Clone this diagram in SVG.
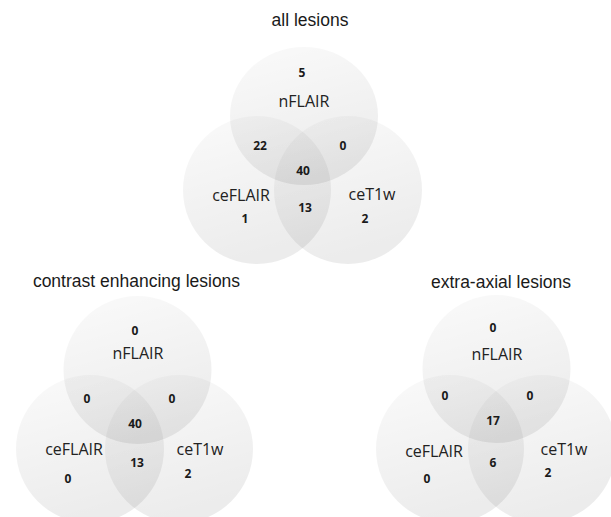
<svg xmlns="http://www.w3.org/2000/svg" width="611" height="517" viewBox="0 0 611 517">
<defs>
<linearGradient id="g" x1="0" y1="0" x2="0.3" y2="1">
<stop offset="0" stop-color="#000" stop-opacity="0.02"/>
<stop offset="1" stop-color="#000" stop-opacity="0.075"/>
</linearGradient>
</defs>
<style>
.c{fill:url(#g);}
.t{font-family:"Liberation Sans",Arial,sans-serif;font-size:17.5px;fill:#1a1a1a;text-anchor:middle;}
.l{font-family:"Open Sans","Noto Sans",sans-serif;font-size:16px;fill:#222;text-anchor:middle;}
.n{font-family:"Open Sans","Noto Sans",sans-serif;font-size:12px;font-weight:bold;fill:#1a1a1a;text-anchor:middle;}
</style>
<rect width="611" height="517" fill="#fff"/>
<g id="diagram-all">
<text class="t" x="310" y="26">all lesions</text>
<g id="all-nFLAIR"><ellipse class="c" cx="304" cy="116" rx="74" ry="69"/><text class="l" x="304" y="107">nFLAIR</text></g>
<g id="all-ceFLAIR"><circle class="c" cx="257" cy="190" r="74"/><text class="l" x="241" y="201">ceFLAIR</text></g>
<g id="all-ceT1w"><circle class="c" cx="348" cy="190" r="74"/><text class="l" x="372" y="200">ceT1w</text></g>
<g id="all-counts">
<text class="n" x="302" y="77">5</text>
<text class="n" x="260" y="150">22</text>
<text class="n" x="343" y="150">0</text>
<text class="n" x="303" y="175">40</text>
<text class="n" x="245" y="223">1</text>
<text class="n" x="305" y="212">13</text>
<text class="n" x="365" y="223">2</text>
</g>
</g>
<g id="diagram-contrast">
<text class="t" x="136.5" y="287">contrast enhancing lesions</text>
<g id="ce-nFLAIR"><circle class="c" cx="137.5" cy="370" r="74"/><text class="l" x="138" y="359">nFLAIR</text></g>
<g id="ce-ceFLAIR"><circle class="c" cx="90" cy="449" r="74"/><text class="l" x="74" y="455">ceFLAIR</text></g>
<g id="ce-ceT1w"><circle class="c" cx="179" cy="449" r="74"/><text class="l" x="200" y="455">ceT1w</text></g>
<g id="ce-counts">
<text class="n" x="135" y="335">0</text>
<text class="n" x="87" y="403">0</text>
<text class="n" x="172" y="403">0</text>
<text class="n" x="135" y="428">40</text>
<text class="n" x="137" y="467">13</text>
<text class="n" x="68" y="483">0</text>
<text class="n" x="188" y="478">2</text>
</g>
</g>
<g id="diagram-extra">
<text class="t" x="501" y="288">extra-axial lesions</text>
<g id="ea-nFLAIR"><circle class="c" cx="496.5" cy="369" r="74"/><text class="l" x="497" y="360">nFLAIR</text></g>
<g id="ea-ceFLAIR"><circle class="c" cx="450" cy="449" r="74"/><text class="l" x="434" y="457">ceFLAIR</text></g>
<g id="ea-ceT1w"><circle class="c" cx="542" cy="449" r="74"/><text class="l" x="564" y="455">ceT1w</text></g>
<g id="ea-counts">
<text class="n" x="493" y="332">0</text>
<text class="n" x="445" y="400">0</text>
<text class="n" x="530" y="400">0</text>
<text class="n" x="493" y="425">17</text>
<text class="n" x="493" y="467">6</text>
<text class="n" x="427" y="483">0</text>
<text class="n" x="548" y="477">2</text>
</g>
</g>
<g id="connectors"/>
</svg>
